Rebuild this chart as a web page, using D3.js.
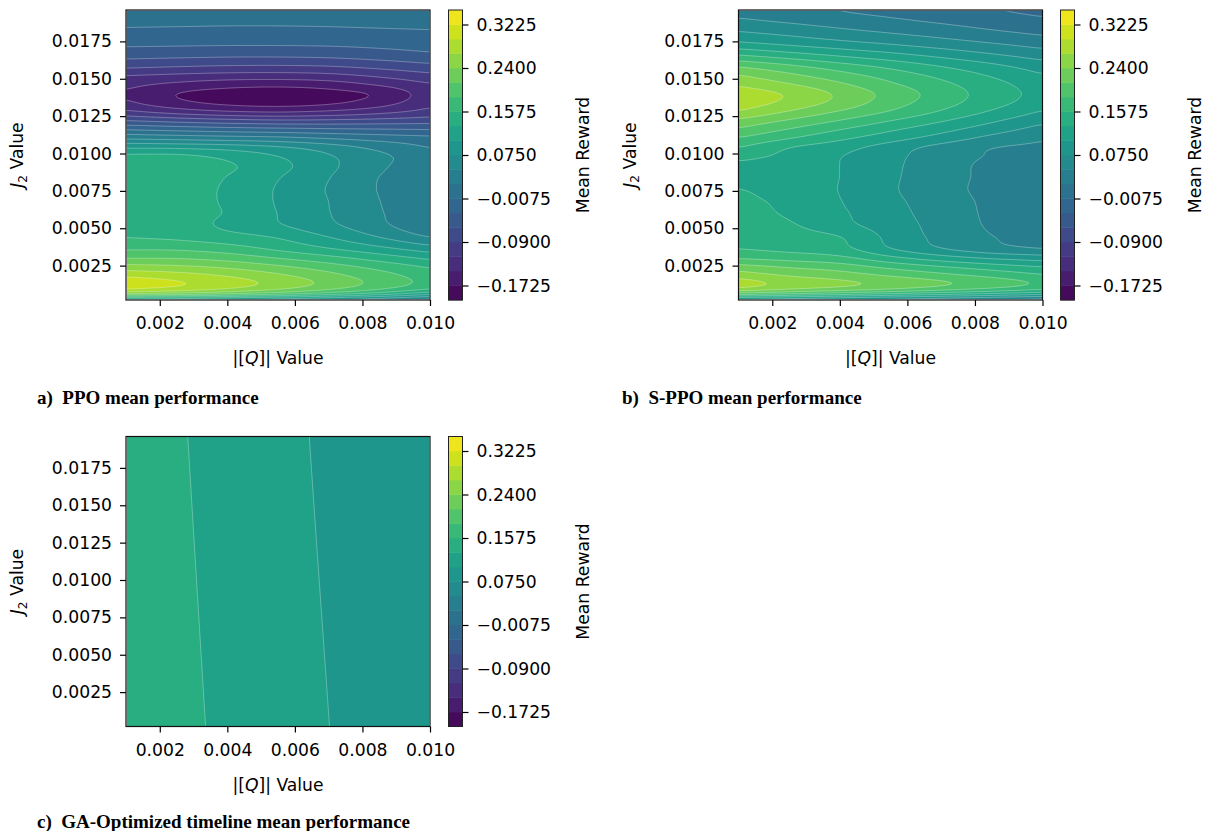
<!DOCTYPE html>
<html><head><meta charset="utf-8">
<script src="https://cdn.jsdelivr.net/npm/d3@7"></script>
<style>body{margin:0;background:#fff;} svg{display:block;}</style>
</head><body>
<svg id="chart" width="1208" height="831"></svg>
<script>
// ---------------- data ----------------
const qNodes = [0.001, 0.0025, 0.004, 0.0055, 0.007, 0.0085, 0.010];
const j2Nodes = [0.0002, 0.0006, 0.0010, 0.0014, 0.0018, 0.0024, 0.0030, 0.0036, 0.0044, 0.0052,
  0.0060, 0.0068, 0.0076, 0.0084, 0.0092, 0.0098, 0.0104, 0.0110, 0.0116, 0.0122,
  0.0128, 0.0134, 0.0140, 0.0146, 0.0152, 0.0158, 0.0166, 0.0174, 0.0182, 0.0190, 0.0196];

// PPO mean reward; one row per J2 node (ascending), one column per |[Q]| node
const ppoReward = [
  [0.085, 0.078, 0.070, 0.060, 0.050, 0.035, 0.020],
  [0.240, 0.230, 0.215, 0.195, 0.172, 0.145, 0.110],
  [0.305, 0.291, 0.273, 0.250, 0.223, 0.194, 0.165],
  [0.312, 0.298, 0.281, 0.259, 0.233, 0.204, 0.176],
  [0.292, 0.282, 0.267, 0.247, 0.223, 0.197, 0.172],
  [0.252, 0.247, 0.236, 0.219, 0.199, 0.177, 0.155],
  [0.212, 0.211, 0.202, 0.185, 0.167, 0.146, 0.125],
  [0.183, 0.182, 0.172, 0.153, 0.133, 0.112, 0.090],
  [0.157, 0.152, 0.141, 0.128, 0.103, 0.075, 0.047],
  [0.148, 0.144, 0.124, 0.105, 0.081, 0.054, 0.024],
  [0.148, 0.144, 0.128, 0.102, 0.076, 0.050, 0.024],
  [0.148, 0.143, 0.126, 0.100, 0.075, 0.048, 0.022],
  [0.148, 0.143, 0.126, 0.100, 0.073, 0.046, 0.022],
  [0.148, 0.145, 0.129, 0.104, 0.076, 0.047, 0.022],
  [0.146, 0.148, 0.134, 0.111, 0.081, 0.053, 0.026],
  [0.138, 0.138, 0.123, 0.103, 0.078, 0.054, 0.030],
  [0.100, 0.098, 0.092, 0.080, 0.062, 0.040, 0.019],
  [0.045, 0.040, 0.035, 0.030, 0.020, 0.010, 0.002],
  [-0.008, -0.015, -0.021, -0.025, -0.029, -0.032, -0.035],
  [-0.062, -0.072, -0.080, -0.085, -0.084, -0.080, -0.075],
  [-0.112, -0.130, -0.143, -0.148, -0.141, -0.127, -0.108],
  [-0.140, -0.165, -0.180, -0.185, -0.178, -0.158, -0.125],
  [-0.147, -0.173, -0.185, -0.190, -0.183, -0.168, -0.130],
  [-0.138, -0.152, -0.162, -0.165, -0.159, -0.142, -0.120],
  [-0.118, -0.124, -0.129, -0.130, -0.126, -0.113, -0.098],
  [-0.085, -0.090, -0.094, -0.095, -0.092, -0.083, -0.072],
  [-0.052, -0.054, -0.056, -0.056, -0.054, -0.048, -0.040],
  [-0.028, -0.029, -0.030, -0.030, -0.029, -0.026, -0.022],
  [-0.012, -0.013, -0.014, -0.014, -0.013, -0.011, -0.009],
  [0.003, 0.002, 0.001, 0.001, 0.002, 0.004, 0.006],
  [0.012, 0.011, 0.010, 0.010, 0.011, 0.014, 0.018]
];

// S-PPO mean reward
const sppoReward = [
  [0.070, 0.062, 0.053, 0.045, 0.037, 0.028, 0.020],
  [0.200, 0.185, 0.170, 0.155, 0.140, 0.125, 0.110],
  [0.270, 0.251, 0.238, 0.223, 0.206, 0.189, 0.170],
  [0.280, 0.259, 0.246, 0.232, 0.217, 0.200, 0.181],
  [0.258, 0.240, 0.228, 0.212, 0.196, 0.180, 0.163],
  [0.225, 0.211, 0.200, 0.179, 0.161, 0.145, 0.131],
  [0.183, 0.175, 0.165, 0.138, 0.116, 0.100, 0.090],
  [0.158, 0.150, 0.139, 0.104, 0.077, 0.058, 0.048],
  [0.149, 0.1425, 0.1315, 0.0955, 0.0675, 0.0485, 0.0395],
  [0.144, 0.1335, 0.1105, 0.0895, 0.0645, 0.0445, 0.0385],
  [0.140, 0.1265, 0.1065, 0.0855, 0.0615, 0.0435, 0.0375],
  [0.135, 0.1245, 0.1035, 0.0815, 0.0605, 0.0425, 0.0375],
  [0.131, 0.1205, 0.1015, 0.0785, 0.0575, 0.0405, 0.0375],
  [0.121, 0.1155, 0.1025, 0.0795, 0.0585, 0.0415, 0.0375],
  [0.124, 0.1175, 0.1025, 0.0805, 0.0595, 0.0415, 0.0375],
  [0.138, 0.1235, 0.1035, 0.0825, 0.0605, 0.0455, 0.0395],
  [0.158, 0.130, 0.113, 0.089, 0.065, 0.048, 0.042],
  [0.183, 0.158, 0.135, 0.113, 0.090, 0.066, 0.050],
  [0.208, 0.183, 0.158, 0.134, 0.111, 0.087, 0.064],
  [0.235, 0.209, 0.184, 0.158, 0.133, 0.107, 0.082],
  [0.266, 0.238, 0.210, 0.183, 0.155, 0.127, 0.100],
  [0.284, 0.260, 0.231, 0.198, 0.169, 0.141, 0.115],
  [0.285, 0.264, 0.235, 0.203, 0.173, 0.145, 0.120],
  [0.264, 0.243, 0.218, 0.190, 0.165, 0.140, 0.115],
  [0.243, 0.220, 0.197, 0.174, 0.151, 0.128, 0.105],
  [0.213, 0.193, 0.172, 0.152, 0.131, 0.111, 0.090],
  [0.157, 0.141, 0.125, 0.110, 0.094, 0.078, 0.062],
  [0.106, 0.094, 0.082, 0.071, 0.059, 0.047, 0.035],
  [0.074, 0.064, 0.053, 0.043, 0.033, 0.022, 0.012],
  [0.049, 0.040, 0.031, 0.022, 0.013, 0.004, -0.005],
  [0.035, 0.027, 0.018, 0.010, 0.002, -0.007, -0.015]
];

// GA-optimized timeline mean reward (nearly planar)
const gaJ2Nodes = [0.0002, 0.0196];
const gaReward = [
  [0.1477, 0.1364, 0.1252, 0.1139, 0.1027, 0.0914, 0.0802],
  [0.1440, 0.1325, 0.1211, 0.1096, 0.0981, 0.0867, 0.0752]
];

const levels = [-0.2, -0.1725, -0.145, -0.1175, -0.09, -0.0625, -0.035, -0.0075, 0.02, 0.0475,
  0.075, 0.1025, 0.13, 0.1575, 0.185, 0.2125, 0.24, 0.2675, 0.295, 0.3225, 0.35];
const colorbarTicks = [-0.1725, -0.09, -0.0075, 0.075, 0.1575, 0.24, 0.3225];
const xTicks = [0.002, 0.004, 0.006, 0.008, 0.010];
const yTicks = [0.0025, 0.0050, 0.0075, 0.0100, 0.0125, 0.0150, 0.0175];
const xDomain = [0.001, 0.010];
const yDomain = [0.0002, 0.0196];

// ---------------- helpers ----------------
function slopesOf(xs, vs) {
  const n = xs.length, m = new Array(n);
  for (let i = 0; i < n; i++) {
    if (i === 0) m[i] = (vs[1] - vs[0]) / (xs[1] - xs[0]);
    else if (i === n - 1) m[i] = (vs[n - 1] - vs[n - 2]) / (xs[n - 1] - xs[n - 2]);
    else {
      const h0 = xs[i] - xs[i - 1], h1 = xs[i + 1] - xs[i];
      const d0 = (vs[i] - vs[i - 1]) / h0, d1 = (vs[i + 1] - vs[i]) / h1;
      m[i] = (h1 * d0 + h0 * d1) / (h0 + h1);
    }
  }
  return m;
}
function hermiteAt(xs, vs, ms, v) {
  const n = xs.length;
  let i = d3.bisectRight(xs, v) - 1;
  i = Math.max(0, Math.min(n - 2, i));
  const h = xs[i + 1] - xs[i];
  const t = Math.max(0, Math.min(1, (v - xs[i]) / h));
  const t2 = t * t, t3 = t2 * t;
  return (2 * t3 - 3 * t2 + 1) * vs[i] + (t3 - 2 * t2 + t) * h * ms[i] +
         (-2 * t3 + 3 * t2) * vs[i + 1] + (t3 - t2) * h * ms[i + 1];
}
// separable box blur with clamped edges (rendering smoothness only)
function boxBlur(values, nx, ny, rx, ry) {
  const tmp = new Float64Array(values.length);
  for (let j = 0; j < ny; j++) {
    for (let i = 0; i < nx; i++) {
      let s = 0, n = 0;
      for (let k = -rx; k <= rx; k++) { const ii = Math.min(nx - 1, Math.max(0, i + k)); s += values[j * nx + ii]; n++; }
      tmp[j * nx + i] = s / n;
    }
  }
  for (let j = 0; j < ny; j++) {
    for (let i = 0; i < nx; i++) {
      let s = 0, n = 0;
      for (let k = -ry; k <= ry; k++) { const jj = Math.min(ny - 1, Math.max(0, j + k)); s += tmp[jj * nx + i]; n++; }
      values[j * nx + i] = s / n;
    }
  }
}

const svg = d3.select("#chart");
const FONT = "DejaVu Sans";
const FS = 17.2;
const color = k => d3.interpolateViridis((k + 0.5) / 20);

function drawPanel(o) {
  const { x0, y0, w, h, ys, grid, cbX, idx } = o;
  const g = svg.append("g");
  const x = d3.scaleLinear().domain(xDomain).range([x0, x0 + w]);
  const y = d3.scaleLinear().domain(yDomain).range([y0 + h, y0]);

  // sample the field on a fine pixel grid for smooth contours
  const nx = Math.round(w), ny = Math.round(h);
  const ncol = qNodes.length;
  const colVals = d3.range(ncol).map(c => grid.map(r => r[c]));
  const colSl = colVals.map(cv => slopesOf(ys, cv));
  const values = new Float64Array(nx * ny);
  for (let j = 0; j < ny; j++) {
    const jv = y.invert(y0 + (j + 0.5) * h / ny);
    const rowVals = colVals.map((cv, c) => hermiteAt(ys, cv, colSl[c], jv));
    const rs = slopesOf(qNodes, rowVals);
    for (let i = 0; i < nx; i++) {
      const qv = x.invert(x0 + (i + 0.5) * w / nx);
      values[j * nx + i] = hermiteAt(qNodes, rowVals, rs, qv);
    }
  }
  boxBlur(values, nx, ny, 6, 2);
  boxBlur(values, nx, ny, 6, 2);
  const contours = d3.contours().size([nx, ny]).thresholds(levels.slice(0, -1))(values);
  const proj = d3.geoTransform({ point(px, py) { this.stream.point(x0 + px * w / nx, y0 + py * h / ny); } });
  const path = d3.geoPath(proj);

  const clipId = "clip" + idx;
  g.append("clipPath").attr("id", clipId).append("rect")
    .attr("x", x0).attr("y", y0).attr("width", w).attr("height", h);
  const cg = g.append("g").attr("clip-path", `url(#${clipId})`);
  cg.append("rect").attr("x", x0).attr("y", y0).attr("width", w).attr("height", h).attr("fill", color(0));
  cg.selectAll("path.band").data(contours).join("path").attr("class", "band")
    .attr("d", path).attr("fill", (d, i) => color(i));
  cg.selectAll("path.iso").data(contours.slice(1)).join("path").attr("class", "iso")
    .attr("d", path).attr("fill", "none")
    .attr("stroke", "rgba(255,255,255,0.5)").attr("stroke-width", 0.6);

  // axes
  const ax = g.append("g").attr("transform", `translate(0,${y0 + h})`)
    .call(d3.axisBottom(x).tickValues(xTicks).tickFormat(d3.format(".3f")).tickSize(6).tickPadding(11).tickSizeOuter(0));
  const ay = g.append("g").attr("transform", `translate(${x0},0)`)
    .call(d3.axisLeft(y).tickValues(yTicks).tickFormat(d3.format(".4f")).tickSize(6).tickPadding(8).tickSizeOuter(0));
  [ax, ay].forEach(a => {
    a.select(".domain").remove();
    a.selectAll("line").attr("stroke", "#000").attr("stroke-width", 1.2);
    a.selectAll("text").attr("font-family", FONT).attr("font-size", FS).attr("fill", "#000");
  });
  ax.selectAll("text").attr("dy", "0.71em");

  g.append("rect").attr("x", x0).attr("y", y0).attr("width", w).attr("height", h)
    .attr("fill", "none").attr("stroke", "#111").attr("stroke-width", 1.2);

  // axis titles
  const xt = g.append("text").attr("x", x0 + w / 2).attr("y", y0 + h + 64)
    .attr("text-anchor", "middle").attr("font-family", FONT).attr("font-size", FS).attr("fill", "#000");
  xt.append("tspan").text("|[");
  xt.append("tspan").attr("font-style", "italic").text("Q");
  xt.append("tspan").text("]| Value");

  const yt = g.append("text").attr("transform", `translate(${x0 - 109},${y0 + h / 2}) rotate(-90)`)
    .attr("text-anchor", "middle").attr("dy", "0.35em")
    .attr("font-family", FONT).attr("font-size", FS).attr("fill", "#000");
  yt.append("tspan").attr("font-style", "italic").text("J");
  yt.append("tspan").attr("font-size", FS * 0.7).attr("dy", "0.3em").text("2");
  yt.append("tspan").attr("dy", "-0.21em").text(" Value");

  // colorbar
  const cbW = 14;
  const c = d3.scaleLinear().domain([levels[0], levels[levels.length - 1]]).range([y0 + h, y0]);
  const cb = g.append("g");
  cb.selectAll("rect.lv").data(levels.slice(0, -1)).join("rect").attr("class", "lv")
    .attr("x", cbX).attr("width", cbW)
    .attr("y", (d, i) => c(levels[i + 1]))
    .attr("height", (d, i) => c(levels[i]) - c(levels[i + 1]) + 0.4)
    .attr("fill", (d, i) => color(i));
  cb.append("rect").attr("x", cbX).attr("y", y0).attr("width", cbW).attr("height", h)
    .attr("fill", "none").attr("stroke", "#222").attr("stroke-width", 1);
  const ac = cb.append("g").attr("transform", `translate(${cbX + cbW},0)`)
    .call(d3.axisRight(c).tickValues(colorbarTicks).tickFormat(d3.format(".4f")).tickSize(6).tickPadding(8).tickSizeOuter(0));
  ac.select(".domain").remove();
  ac.selectAll("line").attr("stroke", "#000").attr("stroke-width", 1.2);
  ac.selectAll("text").attr("font-family", FONT).attr("font-size", FS).attr("fill", "#000");

  g.append("text").attr("transform", `translate(${cbX + 134.5},${y0 + h / 2}) rotate(-90)`)
    .attr("text-anchor", "middle").attr("dy", "0.35em")
    .attr("font-family", FONT).attr("font-size", FS).attr("fill", "#000").text("Mean Reward");

  // caption
  g.append("text").attr("x", o.capX).attr("y", o.capY)
    .attr("font-family", "Liberation Serif, Times New Roman, serif").attr("font-weight", "bold")
    .attr("font-size", 19).attr("fill", "#000").attr("xml:space", "preserve")
    .text(o.caption);
}

drawPanel({ idx: 0, x0: 126, y0: 10, w: 304, h: 290, ys: j2Nodes, grid: ppoReward, cbX: 448.5,
  caption: "a)  PPO mean performance", capX: 37, capY: 404 });
drawPanel({ idx: 1, x0: 738.5, y0: 10, w: 304, h: 290, ys: j2Nodes, grid: sppoReward, cbX: 1060.5,
  caption: "b)  S-PPO mean performance", capX: 622, capY: 404 });
drawPanel({ idx: 2, x0: 126, y0: 436.5, w: 304, h: 290, ys: gaJ2Nodes, grid: gaReward, cbX: 448.5,
  caption: "c)  GA-Optimized timeline mean performance", capX: 37, capY: 828 });
</script>
</body></html>
